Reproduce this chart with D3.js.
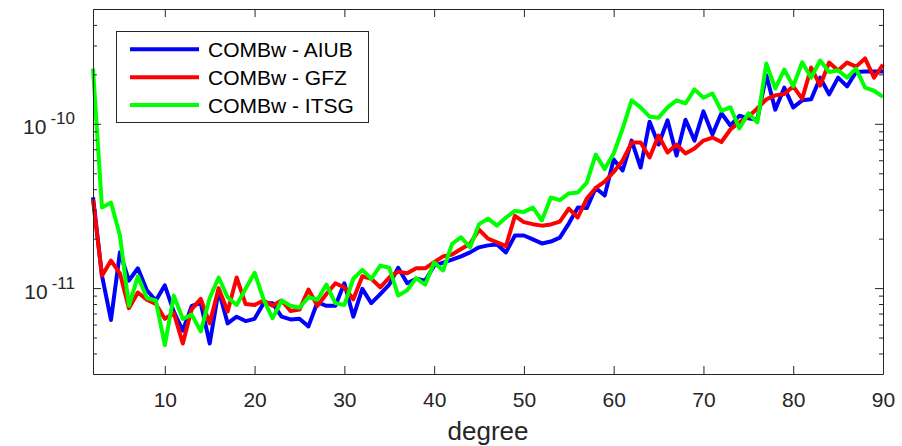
<!DOCTYPE html>
<html><head><meta charset="utf-8">
<script src="https://cdn.jsdelivr.net/npm/d3@7/dist/d3.min.js"></script>
<style>body{margin:0;background:#fff}svg{display:block}</style>
</head><body>
<svg id="c" width="902" height="446"></svg>
<script>
// spherical harmonic degree
const degrees = d3.range(2, 91);
// values in units of 1e-11
const aiubE11 = [3.57,1.19,0.64,1.65,1.11,1.32,0.97,0.84,1.04,0.72,
  0.55,0.78,0.81,0.46,0.97,0.61,0.67,0.63,0.65,0.81,
  0.81,0.67,0.645,0.65,0.585,0.82,0.78,0.78,1.07,0.67,
  0.99,0.81,0.92,1.05,1.33,1.07,1.14,1.11,1.37,1.43,
  1.49,1.56,1.65,1.77,1.82,1.84,1.65,2.09,2.09,1.98,
  1.87,1.92,2.03,2.47,3.09,3.07,4.07,3.66,6.06,5.20,
  7.91,5.42,10.3,7.48,10.5,6.41,10.6,7.91,11.9,8.6,
  11.6,9.77,11.2,10.8,10.6,19.8,12.2,16.6,12.6,13.9,
  14.1,19.1,15.1,19.1,16.9,20.7,20.8,20.8,20.8];
const gfzE11 = [3.46,1.19,1.47,1.23,0.755,0.94,0.85,0.80,0.65,0.705,
  0.46,0.745,0.86,0.61,1.0,0.72,1.16,0.80,0.79,0.84,
  0.78,0.84,0.725,0.74,0.98,0.78,0.92,1.07,1.01,0.855,
  1.18,1.14,1.01,1.16,1.26,1.23,1.32,1.32,1.44,1.56,
  1.60,1.73,1.86,2.27,2.00,1.90,1.80,2.75,2.52,2.45,
  2.40,2.44,2.54,3.05,2.69,3.51,4.07,4.45,5.09,5.98,
  7.69,7.69,6.24,8.49,6.69,7.48,6.60,7.08,7.91,8.25,
  7.75,9.23,10.2,11.05,12.4,14.1,14.9,15.2,16.9,14.2,
  22.0,17.1,23.6,21.1,23.6,22.3,25.0,19.1,22.9];
const itsgE11 = [21.7,3.09,3.32,2.09,0.78,1.18,0.87,0.84,0.45,0.90,
  0.65,0.69,0.545,0.87,1.16,0.88,0.79,0.99,1.24,0.855,
  0.655,0.84,0.78,0.76,0.88,0.85,1.05,0.81,0.79,1.14,
  1.29,1.14,1.37,1.33,0.90,0.97,1.15,1.05,1.43,1.28,
  1.86,2.04,1.77,2.45,2.65,2.40,2.69,2.95,2.91,3.09,
  2.58,3.56,3.43,3.77,3.82,4.39,6.5,5.3,6.60,9.36,
  13.9,12.6,11.05,10.9,12.6,13.9,13.3,16.2,14.4,15.3,
  12.0,12.6,9.36,11.6,10.2,23.3,16.4,21.4,16.9,23.7,
  19.1,24.3,20.7,21.2,19.1,21.7,16.6,15.9,14.6];
const seriesNames = ["COMBw - AIUB", "COMBw - GFZ", "COMBw - ITSG"];
const seriesColors = ["#0000ff", "#ff0000", "#00ff00"];
const xTicks = [10,20,30,40,50,60,70,80,90];
const yMajor = [1e-11, 1e-10];
const yMajorExp = ["-11", "-10"];
const yMinor = [4e-12,5e-12,6e-12,7e-12,8e-12,9e-12,2e-11,3e-11,4e-11,5e-11,6e-11,7e-11,8e-11,9e-11,2e-10,3e-10,4e-10];
const xLabel = "degree";

const series = [aiubE11, gfzE11, itsgE11].map((arr, i) => ({
  name: seriesNames[i], color: seriesColors[i],
  values: arr.map((v, j) => ({d: degrees[j], v: v * 1e-11}))
}));

const L = 93, R = 883, T = 9, B = 374;
const svg = d3.select("#c");
const x = d3.scaleLinear().domain([2, 90]).range([L, R]);
const y = d3.scaleLog().domain([3e-12, 5e-10]).range([B, T]);
const axisColor = "#262626";
const font = "'Liberation Sans', Arial, Helvetica, sans-serif";

svg.append("rect").attr("x", L).attr("y", T).attr("width", R - L).attr("height", B - T).attr("fill", "#fff");

// lines
const line = d3.line().x(p => x(p.d)).y(p => y(p.v));
svg.append("g").selectAll("path").data(series).join("path")
  .attr("d", s => line(s.values))
  .attr("fill", "none").attr("stroke", s => s.color)
  .attr("stroke-width", 4).attr("stroke-linejoin", "round");

function style(g) {
  g.selectAll("path.domain").attr("stroke", axisColor);
  g.selectAll(".tick line").attr("stroke", axisColor);
  g.selectAll(".tick text").attr("fill", axisColor);
}

// bottom
const gB = svg.append("g").attr("transform", `translate(0,${B})`)
  .call(d3.axisBottom(x).tickValues(xTicks).tickSizeInner(-8).tickSizeOuter(0).tickPadding(18))
  .attr("font-family", font).attr("font-size", 21);
style(gB);
// top
const gT = svg.append("g").attr("transform", `translate(0,${T})`)
  .call(d3.axisTop(x).tickValues(xTicks).tickSizeInner(-8).tickSizeOuter(0).tickFormat(""));
style(gT);
// left major
const gL = svg.append("g").attr("transform", `translate(${L},0)`)
  .call(d3.axisLeft(y).tickValues(yMajor).tickSizeInner(-8).tickSizeOuter(0).tickPadding(18).tickFormat(""))
  .attr("font-family", font).attr("font-size", 21);
style(gL);
gL.selectAll(".tick text").each(function(d, i) {
  const t = d3.select(this).attr("dy", "0.48em").attr("text-anchor", "end");
  t.append("tspan").text("10");
  t.append("tspan").attr("font-size", 17).attr("dx", 4).attr("dy", -10).text(yMajorExp[i]);
});
// left minor
const gLm = svg.append("g").attr("transform", `translate(${L},0)`)
  .call(d3.axisLeft(y).tickValues(yMinor).tickSizeInner(-4).tickSizeOuter(0).tickFormat(""));
gLm.select(".domain").remove();
style(gLm);
// right
const gR = svg.append("g").attr("transform", `translate(${R},0)`)
  .call(d3.axisRight(y).tickValues(yMajor).tickSizeInner(-8).tickSizeOuter(0).tickFormat(""));
style(gR);
const gRm = svg.append("g").attr("transform", `translate(${R},0)`)
  .call(d3.axisRight(y).tickValues(yMinor).tickSizeInner(-4).tickSizeOuter(0).tickFormat(""));
gRm.select(".domain").remove();
style(gRm);

// x label
svg.append("text").attr("x", (L + R) / 2).attr("y", 440).attr("text-anchor", "middle")
  .attr("font-family", font).attr("font-size", 26).attr("fill", axisColor).text(xLabel);

// legend
const lg = svg.append("g");
lg.append("rect").attr("x", 116.5).attr("y", 31.5).attr("width", 252).attr("height", 91)
  .attr("fill", "#fff").attr("stroke", axisColor).attr("stroke-width", 1);
const ly = d3.scaleLinear().domain([0, 2]).range([49.3, 105]);
const items = lg.selectAll("g.item").data(series).join("g").attr("class", "item");
items.append("line").attr("x1", 130).attr("x2", 199)
  .attr("y1", (s, i) => ly(i)).attr("y2", (s, i) => ly(i))
  .attr("stroke", s => s.color).attr("stroke-width", 4);
items.append("text").attr("x", 208).attr("y", (s, i) => ly(i)).attr("dy", "0.36em")
  .attr("font-family", font).attr("font-size", 21).attr("fill", "#000").text(s => s.name);
</script>
</body></html>
